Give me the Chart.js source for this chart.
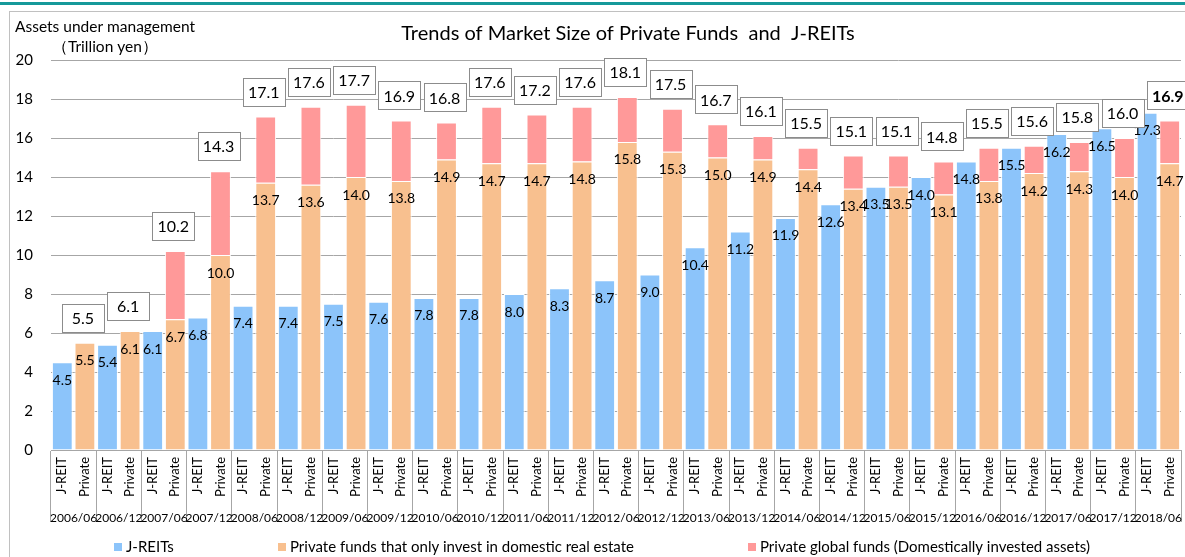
<!DOCTYPE html>
<html>
<head>
<meta charset="utf-8">
<script src="https://cdn.jsdelivr.net/npm/chart.js@4/dist/chart.umd.min.js"></script>
<style>
  body { margin: 0; background: #fff; }
  #wrap { width: 1185px; height: 557px; }
</style>
</head>
<body>
<div id="wrap"><canvas id="chart" width="1185" height="557"></canvas></div>
<script>
// values (trillion yen)
const periods = ['2006/06','2006/12','2007/06','2007/12','2008/06','2008/12','2009/06','2009/12','2010/06','2010/12',
	'2011/06','2011/12','2012/06','2012/12','2013/06','2013/12','2014/06','2014/12','2015/06','2015/12',
	'2016/06','2016/12','2017/06','2017/12','2018/06'];
const barNames = ['J-REIT', 'Private'];
const jreit = [4.5,5.4,6.1,6.8,7.4,7.4,7.5,7.6,7.8,7.8,8.0,8.3,8.7,9.0,10.4,11.2,11.9,12.6,13.5,14.0,14.8,15.5,16.2,16.5,17.3];
const privateDomestic = [5.5,6.1,6.7,10.0,13.7,13.6,14.0,13.8,14.9,14.7,14.7,14.8,15.8,15.3,15.0,14.9,14.4,13.4,13.5,13.1,13.8,14.2,14.3,14.0,14.7];
const privateTotal = [5.5,6.1,10.2,14.3,17.1,17.6,17.7,16.9,16.8,17.6,17.2,17.6,18.1,17.5,16.7,16.1,15.5,15.1,15.1,14.8,15.5,15.6,15.8,16.0,16.9];
const yTicks = [0,2,4,6,8,10,12,14,16,18,20];

const colores = {
	jreit: '#8cc4fa',
	domestic: '#f8c08f',
	global: '#ff9999',
	grid: '#a6a6a6'
};
const FONT = 'Lato, "Liberation Sans", sans-serif';

// one category per bar: J-REIT / Private for every period
let labels = [];
let dJreit = [];
let dDomestic = [];
let dGlobal = [];
periods.forEach((p, i) => {
	labels.push(barNames[0], barNames[1]);
	dJreit.push(jreit[i], null);
	dDomestic.push(null, privateDomestic[i]);
	dGlobal.push(null, +(privateTotal[i] - privateDomestic[i]).toFixed(1));
});

const textPlugin = {
	id: 'texts',
	beforeDraw(chart) {
		const ctx = chart.ctx;
		ctx.save();
		ctx.fillStyle = '#ffffff';
		ctx.fillRect(0, 0, chart.width, chart.height);
		ctx.fillStyle = '#16999a';
		ctx.fillRect(0, 2, chart.width, 3);
		ctx.strokeStyle = '#c0c0c0';
		ctx.lineWidth = 1;
		ctx.strokeRect(9.5, 11.5, chart.width + 20, chart.height + 20);
		ctx.fillStyle = '#000';
		ctx.textBaseline = 'middle';
		ctx.textAlign = 'left';
		ctx.font = '15.5px ' + FONT;
		ctx.fillText('Assets under management', 15, 27);
		ctx.fillText('（Trillion yen）', 52, 47);
		ctx.textAlign = 'center';
		ctx.font = '20px ' + FONT;
		ctx.fillText('Trends of Market Size of Private Funds  and  J-REITs', 628, 34);

		// legend
		const items = [
			[114, colores.jreit, 'J-REITs'],
			[278, colores.domestic, 'Private funds that only invest in domestic real estate'],
			[748, colores.global, 'Private global funds (Domestically invested assets)']
		];
		ctx.font = '15px ' + FONT;
		ctx.textAlign = 'left';
		for (const it of items) {
			ctx.fillStyle = it[1];
			ctx.fillRect(it[0], 543, 8, 8);
			ctx.fillStyle = '#000';
			ctx.fillText(it[2], it[0] + 12, 547);
		}
		ctx.restore();
	},
	afterDatasetsDraw(chart) {
		const ctx = chart.ctx;
		const mJ = chart.getDatasetMeta(0).data;
		const mD = chart.getDatasetMeta(1).data;
		const mG = chart.getDatasetMeta(2).data;
		ctx.save();
		ctx.fillStyle = '#000';
		ctx.textAlign = 'center';
		ctx.textBaseline = 'middle';
		ctx.font = '14px ' + FONT;
		periods.forEach((p, i) => {
			const bj = mJ[i * 2];
			ctx.fillText(jreit[i].toFixed(1), bj.x, bj.y + 18);
			const bd = mD[i * 2 + 1];
			ctx.fillText(privateDomestic[i].toFixed(1), bd.x, bd.y + 18);
		});
		// total boxes
		periods.forEach((p, i) => {
			const bg = mG[i * 2 + 1];
			const bd = mD[i * 2 + 1];
			const top = Math.min(bg.y, bd.y);
			const cx = bd.x - 2;
			const cy = top - 25;
			const last = i === periods.length - 1;
			const bx = Math.round(cx - 21) + 0.5;
			const by = Math.round(cy - 14) + 0.5;
			ctx.fillStyle = '#fff';
			ctx.fillRect(bx, by, 42, 28);
			ctx.strokeStyle = '#8c8c8c';
			ctx.lineWidth = 1;
			ctx.strokeRect(bx, by, 42, 28);
			ctx.fillStyle = '#000';
			ctx.font = (last ? 'bold ' : '') + '16px ' + FONT;
			ctx.fillText(privateTotal[i].toFixed(1), cx, cy + 1);
		});
		ctx.restore();
	}
};

const config = {
	type: 'bar',
	data: {
		labels: labels,
		datasets: [
			{ label: 'J-REITs', data: dJreit, backgroundColor: colores.jreit },
			{ label: 'Private funds that only invest in domestic real estate', data: dDomestic, backgroundColor: colores.domestic },
			{ label: 'Private global funds (Domestically invested assets)', data: dGlobal, backgroundColor: colores.global }
		]
	},
	options: {
		responsive: false,
		devicePixelRatio: 1,
		animation: false,
		datasets: {
			bar: {
				categoryPercentage: 1,
				barPercentage: 0.92,
				borderColor: '#ffffff',
				borderWidth: 1
			}
		},
		layout: {
			padding: { left: 10, right: 4, top: 60, bottom: 35 }
		},
		plugins: {
			legend: { display: false },
			title: { display: false },
			tooltip: { enabled: false }
		},
		scales: {
			x: {
				stacked: true,
				weight: 0,
				afterFit(scale) { scale.height = 52; },
				border: { display: true, color: colores.grid },
				grid: {
					drawOnChartArea: false,
					drawTicks: true,
					tickLength: 72,
					color: (c) => (c.index === undefined || c.index % 2 === 0) ? colores.grid : 'rgba(0,0,0,0)'
				},
				ticks: {
					autoSkip: false,
					minRotation: 90,
					maxRotation: 90,
					padding: -65,
					color: '#000',
					font: { family: FONT, size: 13 }
				}
			},
			x2: {
				type: 'category',
				position: 'bottom',
				weight: 1,
				labels: periods,
				offset: true,
				afterFit(scale) { scale.height = 20; },
				grid: { display: false },
				border: { display: false },
				ticks: {
					autoSkip: false,
					maxRotation: 0,
					minRotation: 0,
					padding: 1,
					color: '#000',
					font: { family: FONT, size: 12 }
				}
			},
			y: {
				stacked: true,
				min: 0,
				max: 20,
				afterFit(scale) { scale.width = 41; },
				afterBuildTicks(scale) { scale.ticks = yTicks.map(v => ({ value: v })); },
				border: { display: false },
				grid: { color: colores.grid, drawTicks: false },
				ticks: {
					padding: 18,
					color: '#000',
					font: { family: FONT, size: 15 }
				}
			}
		}
	},
	plugins: [textPlugin]
};

var myChart = new Chart(document.getElementById('chart'), config);
</script>
</body>
</html>
